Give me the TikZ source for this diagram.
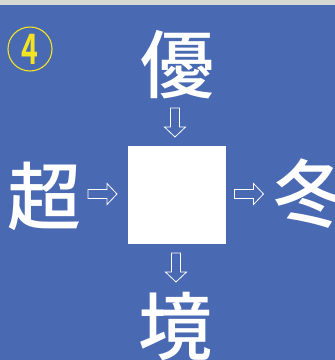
\documentclass[tikz,border=0pt]{standalone}
\usepackage{fontspec}
\usepackage{xcolor}
\usepackage{tikz}
\usetikzlibrary{calc}
\newfontfamily\kanjifont{Noto Sans CJK JP}[UprightFont={* Medium}, BoldFont={* Bold}]
\definecolor{board}{HTML}{4A69B3}
\definecolor{strip}{HTML}{D6D8D4}
\definecolor{mark}{HTML}{F2E422}
\tikzset{
  kanji/.style={text=white, inner sep=0pt, font=\kanjifont\fontsize{74}{74}\selectfont},
  blank/.style={fill=white, inner sep=0pt, minimum width=98pt, minimum height=98pt},
  num/.style={circle, draw=mark, line width=1.1pt, minimum size=44pt, inner sep=0pt,
    text=mark, font=\kanjifont\bfseries\fontsize{42}{42}\selectfont},
  arr/.style={draw=white, line width=0.8pt, line join=miter},
  blockarrow/.pic={
    \draw[arr] (-14.5,-4.5)--(4.5,-4.5)--(4.5,-10.5)--(14.5,0)--(4.5,10.5)--(4.5,4.5)--(-14.5,4.5)--cycle;
  },
}

\begin{document}
\begin{tikzpicture}[x=1pt,y=1pt]
  % page and backdrop
  \useasboundingbox (0,0) rectangle (335,-360);
  \fill[board] (0,0) rectangle (335,-360);
  \fill[strip] (0,0) rectangle (335,-5);
  \node[num] (q4) at (30,-49) {\scalebox{0.68}[1]{4}};
  % the four given characters and the empty square
  \node[blank] (box) at (177,-195) {};
  \node[kanji] (top) at (177,-65) {優};
  \node[kanji] (left) at (44,-196) {超};
  \node[kanji] (right) at (311,-194) {冬};
  \node[kanji] (bottom) at (176,-327) {境};
  % hollow arrows into and out of the square
  \coordinate (a1) at (175,-122.5);
  \coordinate (a2) at (102.5,-194);
  \coordinate (a3) at (249,-194);
  \coordinate (a4) at (176,-267.5);
  \pic[rotate=-90] at (a1) {blockarrow};
  \pic at (a2) {blockarrow};
  \pic at (a3) {blockarrow};
  \pic[rotate=-90] at (a4) {blockarrow};
\end{tikzpicture}
\end{document}
